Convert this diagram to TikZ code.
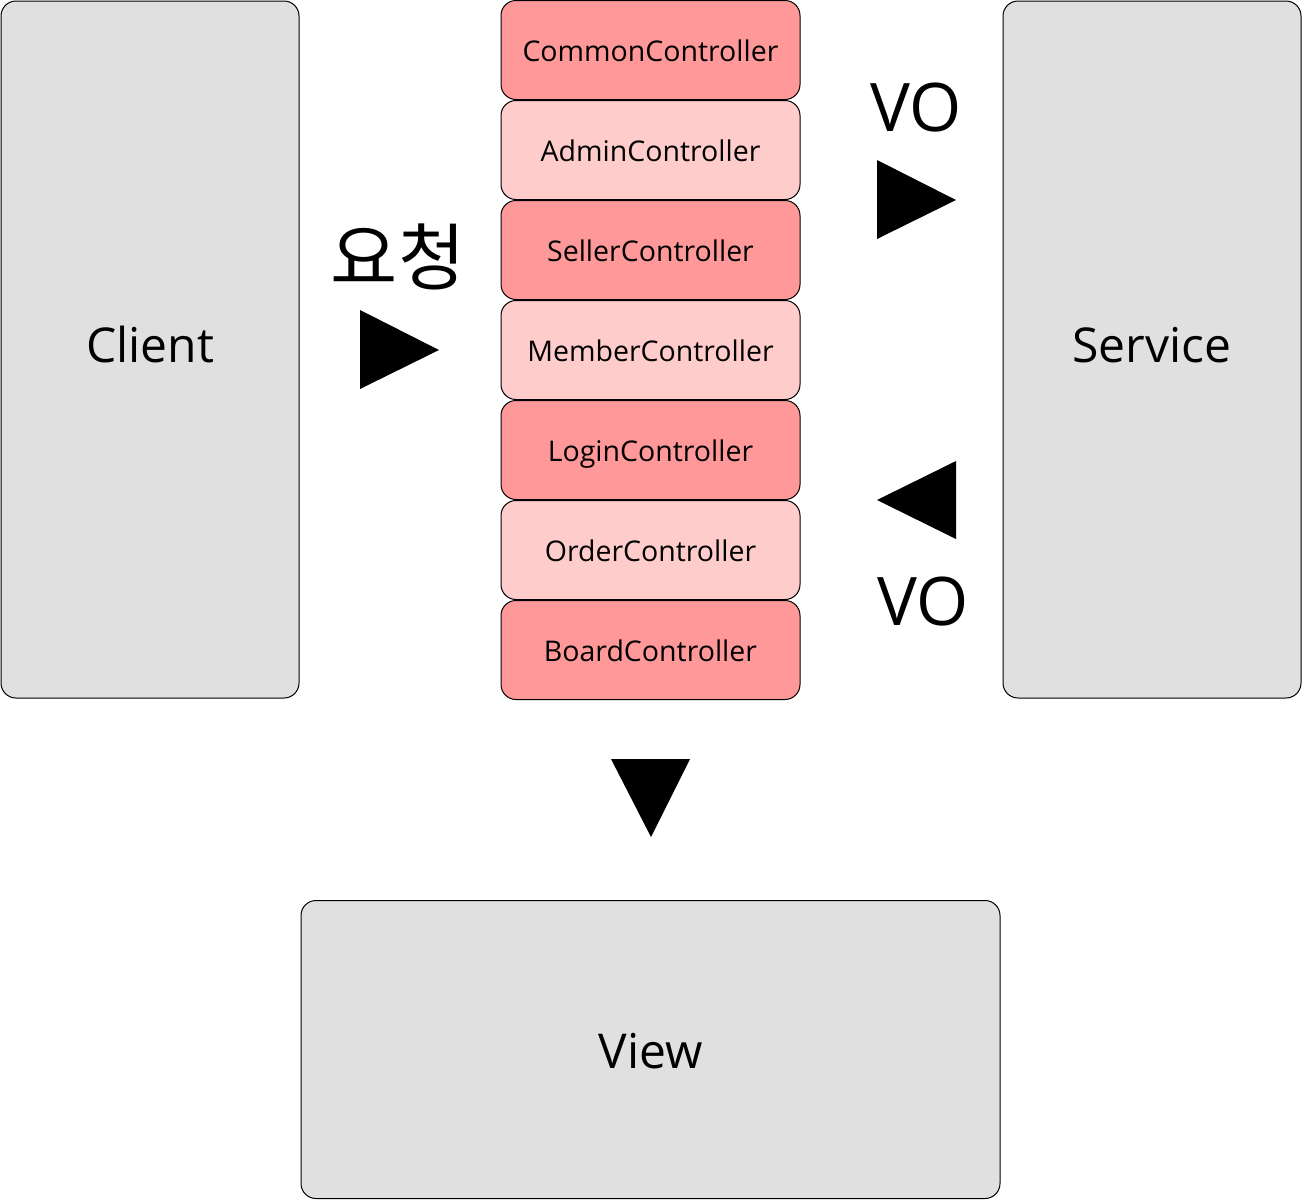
\documentclass[tikz,border=0pt]{standalone}
\usepackage{fontspec}
\setmainfont{Open Sans}
\newfontfamily\krfont{Noto Sans CJK KR}
\definecolor{boxgray}{HTML}{E0E0E0}
\definecolor{ctrldark}{HTML}{FF9999}
\definecolor{ctrllight}{HTML}{FFCCCC}
\begin{document}
\begin{tikzpicture}[x=1pt,y=-1pt,
  bigbox/.style={draw=black,line width=1pt,fill=boxgray,rounded corners=15pt,inner sep=0pt,font=\fontsize{48}{56}\selectfont},
  tallbox/.style={bigbox,minimum width=298pt,minimum height=697pt,text height=37pt,text depth=12pt},
  ctrl/.style={draw=black,line width=1pt,rounded corners=15pt,minimum width=299pt,minimum height=99pt,inner sep=0pt,text height=24pt,text depth=1pt,font=\fontsize{28.5}{34}\selectfont},
  dark/.style={ctrl,fill=ctrldark},
  light/.style={ctrl,fill=ctrllight},
  biglabel/.style={inner sep=0pt,font=\fontsize{67}{76}\selectfont},
  tri/.style={fill=black}]
\useasboundingbox (0,0) rectangle (1302,1200);
\node[tallbox] (client) at (150,349.5) {Client};
\node[tallbox] (service) at (1152,349.5) {Service};
\node[bigbox,minimum width=699pt,minimum height=298pt,text height=37pt,text depth=0pt] (view) at (650.5,1049.5) {View};
\node[dark]  (common) at (650.5,50)  {CommonController};
\node[light] (admin)  at (650.5,150) {AdminController};
\node[dark]  (seller) at (650.5,250) {SellerController};
\node[light] (member) at (650.5,350) {MemberController};
\node[dark]  (login)  at (650.5,450) {LoginController};
\node[light] (order)  at (650.5,550) {OrderController};
\node[dark]  (board)  at (650.5,650) {BoardController};
\node[biglabel,font=\krfont\fontsize{73}{80}\selectfont] (req) at (398,257) {요청};
\node[biglabel] (vo1) at (916,108) {VO};
\node[biglabel] (vo2) at (923,602) {VO};
\fill[tri] (360,310) -- (439,350) -- (360,389) -- cycle;
\fill[tri] (877,160) -- (956,200) -- (877,239) -- cycle;
\fill[tri] (956,461) -- (877,500) -- (956,539) -- cycle;
\fill[tri] (611,759) -- (690,759) -- (651,837) -- cycle;
\end{tikzpicture}
\end{document}
